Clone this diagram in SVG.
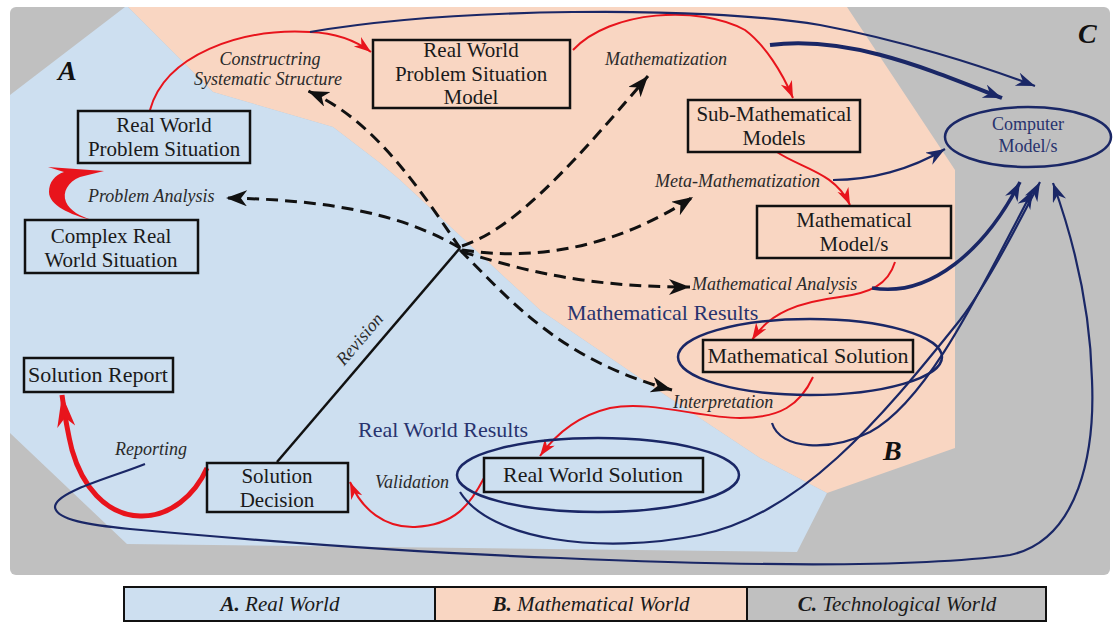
<svg xmlns="http://www.w3.org/2000/svg" width="1120" height="623" viewBox="0 0 1120 623">
<style>
text{font-family:"Liberation Serif","Times New Roman",Times,"DejaVu Serif",serif}
.box{fill:none;stroke:#111;stroke-width:2.5}
.bt{font-size:21px;fill:#1a1a1a;text-anchor:middle}
.lbl{font-size:18px;font-style:italic;fill:#2a2a2a}
.nav{font-size:22px;fill:#28336e}
.big{font-size:28px;font-style:italic;font-weight:bold;fill:#111}
.red{fill:none;stroke:#e8141c;stroke-width:2}
.navy{fill:none;stroke:#1a2766;stroke-width:2.2}
.dash{fill:none;stroke:#111;stroke-width:3;stroke-dasharray:12 7}
.ell{fill:none;stroke:#1a2766;stroke-width:2.5}
.leg{font-size:21px;font-style:italic;fill:#1a1a1a;text-anchor:middle}
</style>
<defs>
<marker id="ar" markerUnits="userSpaceOnUse" markerWidth="18" markerHeight="14" refX="17" refY="6" orient="auto"><path d="M0,0 L17,6 L0,12 L5,6 z" fill="#e8141c"/></marker>
<marker id="arBig" markerUnits="userSpaceOnUse" markerWidth="34" markerHeight="20" refX="32" refY="9" orient="auto"><path d="M0,0 L32,9 L0,18 L9,9 z" fill="#e8141c"/></marker>
<marker id="an" markerUnits="userSpaceOnUse" markerWidth="20" markerHeight="16" refX="19" refY="7" orient="auto"><path d="M0,0 L19,7 L0,14 L6,7 z" fill="#1a2766"/></marker>
<marker id="ab" markerUnits="userSpaceOnUse" markerWidth="22" markerHeight="18" refX="21" refY="8" orient="auto"><path d="M0,0 L21,8 L0,16 L6,8 z" fill="#111"/></marker>
</defs>
<rect width="1120" height="623" fill="#fff"/>
<g id="regions">
<rect x="10" y="7" width="1100" height="568" rx="6" fill="#c0c0c0"/>
<polygon fill="#f9d6c2" points="128,7 847,7 955,170 955,448 827,493 760,458 650,385 540,310 400,180 380,163 333,127 213,92"/>
<polygon fill="#cddff0" points="10,95 125,7 128,7 213,92 333,127 380,163 400,180 540,310 650,385 760,458 827,493 797,552 127,544 10,433"/>
</g>
<g id="region-labels">
<text class="big" x="58" y="80">A</text>
<text class="big" x="883" y="460">B</text>
<text class="big" x="1078" y="43">C</text>
</g>
<g id="connectors">
<path class="red" d="M150,110 C165,55 240,28 310,32 C335,33 355,40 371,52" marker-end="url(#ar)"/>
<path class="red" d="M573,50 C610,10 700,5 745,30 C765,45 782,72 793,98" marker-end="url(#ar)"/>
<path class="red" d="M777,152 C800,168 835,172 850,205" marker-end="url(#ar)"/>
<path class="red" d="M895,262 C888,285 870,293 840,297 C800,302 770,312 752,340" marker-end="url(#ar)"/>
<path class="red" d="M813,377 C800,405 780,418 740,418 C700,418 650,400 610,408 C585,414 560,428 540,456" marker-end="url(#ar)"/>
<path class="red" d="M484,478 C470,505 455,525 415,527 C385,528 362,510 350,482" marker-end="url(#ar)"/>
<path class="red" style="stroke-width:5" d="M207,468 C195,495 170,517 140,516 C105,515 82,485 72,450 C67,430 64,410 62,395" marker-end="url(#arBig)"/>
<path fill="#e8141c" d="M92,220 C70,215 49,205 49,192 C49,182 55,175 64,172 L48,167 L104,171 L80,177 C68,182 62,192 66,202 C70,211 80,216 92,220 Z"/>
<path class="navy" d="M310,32 C450,8 700,5 820,25 C900,40 980,65 1035,86" marker-end="url(#an)"/>
<path class="navy" style="stroke-width:4" d="M770,45 C850,35 930,70 1002,98" marker-end="url(#an)"/>
<path class="navy" d="M833,180 C870,180 910,170 945,149" marker-end="url(#an)"/>
<path class="navy" style="stroke-width:3.5" d="M872,288 C930,298 985,250 1020,182" marker-end="url(#an)"/>
<path class="navy" d="M772,423 C780,450 830,452 870,432 C930,400 985,280 1033,190" marker-end="url(#an)"/>
<path class="navy" d="M460,492 C490,540 600,555 700,535 C800,515 880,420 960,320 C990,280 1020,220 1040,182" marker-end="url(#an)"/>
<path class="navy" d="M145,464 C110,478 55,492 55,507 C56,520 90,525 130,529 C250,540 400,552 560,558 C700,564 900,570 1010,555 C1080,540 1095,450 1092,380 C1090,300 1070,230 1053,183" marker-end="url(#an)"/>
<path class="dash" d="M460,248 C420,190 375,120 308,91" marker-end="url(#ab)"/>
<path class="dash" d="M460,248 C420,225 360,200 226,198" marker-end="url(#ab)"/>
<path class="dash" d="M462,246 C510,230 560,180 648,76" marker-end="url(#ab)"/>
<path class="dash" d="M462,250 C540,262 620,245 693,197" marker-end="url(#ab)"/>
<path class="dash" d="M462,252 C510,265 570,287 690,287" marker-end="url(#ab)"/>
<path class="dash" d="M460,250 C510,300 560,360 672,390" marker-end="url(#ab)"/>
<path fill="none" stroke="#111" stroke-width="2.5" d="M277,462 L460,248"/>
</g>
<g id="labels">
<text class="lbl" x="270" y="65" text-anchor="middle">Constructring</text>
<text class="lbl" x="268" y="85" text-anchor="middle">Systematic Structure</text>
<text class="lbl" x="605" y="65">Mathematization</text>
<text class="lbl" x="88" y="202">Problem Analysis</text>
<text class="lbl" x="655" y="187">Meta-Mathematization</text>
<text class="lbl" x="692" y="290">Mathematical Analysis</text>
<text class="lbl" x="673" y="408">Interpretation</text>
<text class="lbl" x="375" y="488">Validation</text>
<text class="lbl" x="115" y="455">Reporting</text>
<text class="lbl" transform="translate(364,343) rotate(-49.5)" text-anchor="middle">Revision</text>
<text class="nav" x="567" y="320">Mathematical Results</text>
<text class="nav" x="358" y="437">Real World Results</text>
</g>
<g id="node-rwps"><rect class="box" x="78" y="111" width="172" height="52"/><text class="bt" x="164" y="132">Real World</text><text class="bt" x="164" y="156">Problem Situation</text></g>
<g id="node-complex"><rect class="box" x="25" y="220" width="173" height="53"/><text class="bt" x="111" y="243">Complex Real</text><text class="bt" x="111" y="267">World Situation</text></g>
<g id="node-rwpsm"><rect class="box" x="373" y="40" width="197" height="68"/><text class="bt" x="471" y="57">Real World</text><text class="bt" x="471" y="80.5">Problem Situation</text><text class="bt" x="471" y="104">Model</text></g>
<g id="node-submath"><rect class="box" x="688" y="100" width="172" height="52"/><text class="bt" x="774" y="121">Sub-Mathematical</text><text class="bt" x="774" y="145">Models</text></g>
<g id="node-mathmodel"><rect class="box" x="757" y="206" width="194" height="52"/><text class="bt" x="854" y="227">Mathematical</text><text class="bt" x="854" y="251">Model/s</text></g>
<g id="node-mathsol"><ellipse class="ell" cx="810" cy="357" rx="132" ry="38"/><rect class="box" x="703" y="340" width="210" height="32"/><text class="bt" x="808" y="363" style="font-size:22px">Mathematical Solution</text></g>
<g id="node-rwsol"><ellipse class="ell" cx="598" cy="475" rx="141" ry="37"/><rect class="box" x="484" y="458" width="219" height="34"/><text class="bt" x="593" y="482" style="font-size:22px">Real World Solution</text></g>
<g id="node-decision"><rect class="box" x="207" y="463" width="141" height="49"/><text class="bt" x="277" y="483">Solution</text><text class="bt" x="277" y="507">Decision</text></g>
<g id="node-report"><rect class="box" x="24" y="358" width="149" height="34"/><text class="bt" x="98" y="382" style="font-size:22px">Solution Report</text></g>
<g id="node-computer"><ellipse class="ell" cx="1028" cy="137" rx="83" ry="30"/><text class="bt" x="1028" y="130" style="font-size:18px;fill:#28336e">Computer</text><text class="bt" x="1028" y="152" style="font-size:18px;fill:#28336e">Model/s</text></g>
<g id="legend">
<rect x="124" y="587" width="311" height="34" fill="#cddff0"/>
<rect x="435" y="587" width="312" height="34" fill="#f9d6c2"/>
<rect x="747" y="587" width="299" height="34" fill="#c0c0c0"/>
<rect x="124" y="587" width="922" height="34" fill="none" stroke="#111" stroke-width="2"/>
<line x1="435" y1="587" x2="435" y2="621" stroke="#111" stroke-width="2"/>
<line x1="747" y1="587" x2="747" y2="621" stroke="#111" stroke-width="2"/>
<text class="leg" x="280" y="611"><tspan font-weight="bold">A.</tspan> Real World</text>
<text class="leg" x="591" y="611"><tspan font-weight="bold">B.</tspan> Mathematical World</text>
<text class="leg" x="897" y="611"><tspan font-weight="bold">C.</tspan> Technological World</text>
</g>
</svg>
